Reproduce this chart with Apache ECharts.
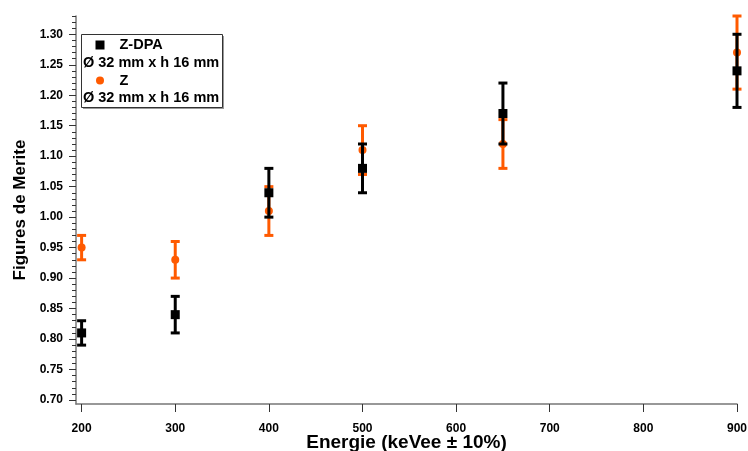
<!DOCTYPE html>
<html>
<head>
<meta charset="utf-8">
<script src="https://cdn.jsdelivr.net/npm/echarts@6/dist/echarts.min.js"></script>
<style>
html,body{margin:0;padding:0;background:#fff;}
#chart{width:748px;height:451px;}
</style>
</head>
<body>
<div id="chart"></div>
<script>
// ---- data ----
const energies = [200, 300, 400, 500, 650, 900];
const zdpaValues = [0.81, 0.84, 1.04, 1.08, 1.17, 1.24];
const zdpaLow    = [0.79, 0.81, 1.00, 1.04, 1.12, 1.18];
const zdpaHigh   = [0.83, 0.87, 1.08, 1.12, 1.22, 1.30];
const zValues = [0.95, 0.93, 1.01, 1.11, 1.12, 1.27];
const zLow    = [0.93, 0.90, 0.97, 1.07, 1.08, 1.21];
const zHigh   = [0.97, 0.96, 1.05, 1.15, 1.16, 1.33];
const xTicks = [200, 300, 400, 500, 600, 700, 800, 900];
const yTicks = [0.70, 0.75, 0.80, 0.85, 0.90, 0.95, 1.00, 1.05, 1.10, 1.15, 1.20, 1.25, 1.30];
const yMinorTicks = [];
yTicks.forEach(function (t) {
  for (let k = 1; k <= 4; k++) {
    const v = +(t + k * 0.01).toFixed(2);
    if (v <= 1.33) yMinorTicks.push(v);
  }
});
const seriesNames = ['Z-DPA', 'Z'];
const detectorLabel = 'Ø 32 mm x h 16 mm';

const FONT = '"Liberation Sans", Arial, Helvetica, sans-serif';
const BLACK = '#000000';
const ORANGE = '#ff5a00';

function pts(vals) { return energies.map(function (e, i) { return [e, vals[i]]; }); }
function errs(lo, hi) { return energies.map(function (e, i) { return [e, lo[i], hi[i]]; }); }

function errorBar(color) {
  return function (params, api) {
    const x = api.value(0);
    const pLo = api.coord([x, api.value(1)]);
    const pHi = api.coord([x, api.value(2)]);
    const hw = 4.5;
    const st = { stroke: color, lineWidth: 3 };
    return {
      type: 'group',
      children: [
        { type: 'line', shape: { x1: pLo[0], y1: pLo[1], x2: pHi[0], y2: pHi[1] }, style: st },
        { type: 'line', shape: { x1: pHi[0] - hw, y1: pHi[1], x2: pHi[0] + hw, y2: pHi[1] }, style: st },
        { type: 'line', shape: { x1: pLo[0] - hw, y1: pLo[1], x2: pLo[0] + hw, y2: pLo[1] }, style: st }
      ]
    };
  };
}

const chart = echarts.init(document.getElementById('chart'), null, { renderer: 'canvas' });
const axisLineStyle = { color: '#777777', width: 1.5 };

chart.setOption({
  backgroundColor: '#ffffff',
  animation: false,
  grid: { left: 76, right: 11, top: 16, bottom: 47, containLabel: false, outerBoundsMode: 'none' },
  xAxis: {
    type: 'value',
    min: 194,
    max: 900,
    name: 'Energie (keVee ± 10%)',
    nameLocation: 'middle',
    nameGap: 29,
    nameMoveOverlap: false,
    nameTextStyle: { fontFamily: FONT, fontWeight: 'bold', fontSize: 19, color: '#000' },
    axisLine: { show: true, lineStyle: axisLineStyle },
    axisTick: { show: true, length: 8, customValues: xTicks, lineStyle: { color: '#333', width: 1 } },
    axisLabel: { customValues: xTicks, margin: 19, fontFamily: FONT, fontWeight: 'bold', fontSize: 12, color: '#000' },
    splitLine: { show: false }
  },
  yAxis: [{
    type: 'value',
    min: 0.6934,
    max: 1.33,
    name: 'Figures de Merite',
    nameLocation: 'middle',
    nameGap: 47,
    nameMoveOverlap: false,
    nameTextStyle: { fontFamily: FONT, fontWeight: 'bold', fontSize: 17, color: '#000' },
    axisLine: { show: true, lineStyle: axisLineStyle },
    axisTick: { show: true, length: 7, customValues: yTicks, lineStyle: { color: '#333', width: 1 } },
    axisLabel: {
      customValues: yTicks, margin: 13, fontFamily: FONT, fontWeight: 'bold', fontSize: 12, color: '#000',
      formatter: function (v) { return v.toFixed(2); }
    },
    splitLine: { show: false }
  }, {
    type: 'value',
    position: 'left',
    min: 0.6934,
    max: 1.33,
    axisLine: { show: false },
    axisTick: { show: true, length: 4, customValues: yMinorTicks, lineStyle: { color: '#333', width: 1 } },
    axisLabel: { show: false, customValues: yMinorTicks },
    splitLine: { show: false }
  }],
  series: [
    { name: seriesNames[1] + ' err', type: 'custom', renderItem: errorBar(ORANGE), data: errs(zLow, zHigh), clip: false, z: 2 },
    { name: seriesNames[1], type: 'scatter', symbol: 'circle', symbolSize: 8, itemStyle: { color: ORANGE, opacity: 1 }, data: pts(zValues), z: 3 },
    { name: seriesNames[0] + ' err', type: 'custom', renderItem: errorBar(BLACK), data: errs(zdpaLow, zdpaHigh), clip: false, z: 4 },
    { name: seriesNames[0], type: 'scatter', symbol: 'rect', symbolSize: 9, itemStyle: { color: BLACK, opacity: 1 }, data: pts(zdpaValues), z: 5 }
  ],
  graphic: [{
    type: 'group',
    left: 81,
    top: 34,
    children: [
      { type: 'rect', shape: { x: 1.5, y: 1.5, width: 141, height: 73 }, style: { fill: '#999', stroke: null } },
      { type: 'rect', shape: { x: 0, y: 0, width: 141, height: 73 }, style: { fill: '#fff', stroke: '#333', lineWidth: 1 } },
      { type: 'rect', shape: { x: 14, y: 6, width: 9, height: 9 }, style: { fill: BLACK } },
      { type: 'text', style: { x: 38, y: 10.5, text: seriesNames[0], font: 'bold 14.5px ' + FONT, fill: '#000', verticalAlign: 'middle' } },
      { type: 'text', style: { x: 1.5, y: 28.5, text: detectorLabel, font: 'bold 14.5px ' + FONT, fill: '#000', verticalAlign: 'middle' } },
      { type: 'circle', shape: { cx: 18.5, cy: 46, r: 4 }, style: { fill: ORANGE } },
      { type: 'text', style: { x: 38, y: 46, text: seriesNames[1], font: 'bold 14.5px ' + FONT, fill: '#000', verticalAlign: 'middle' } },
      { type: 'text', style: { x: 1.5, y: 63, text: detectorLabel, font: 'bold 14.5px ' + FONT, fill: '#000', verticalAlign: 'middle' } }
    ]
  }]
});
</script>
</body>
</html>
